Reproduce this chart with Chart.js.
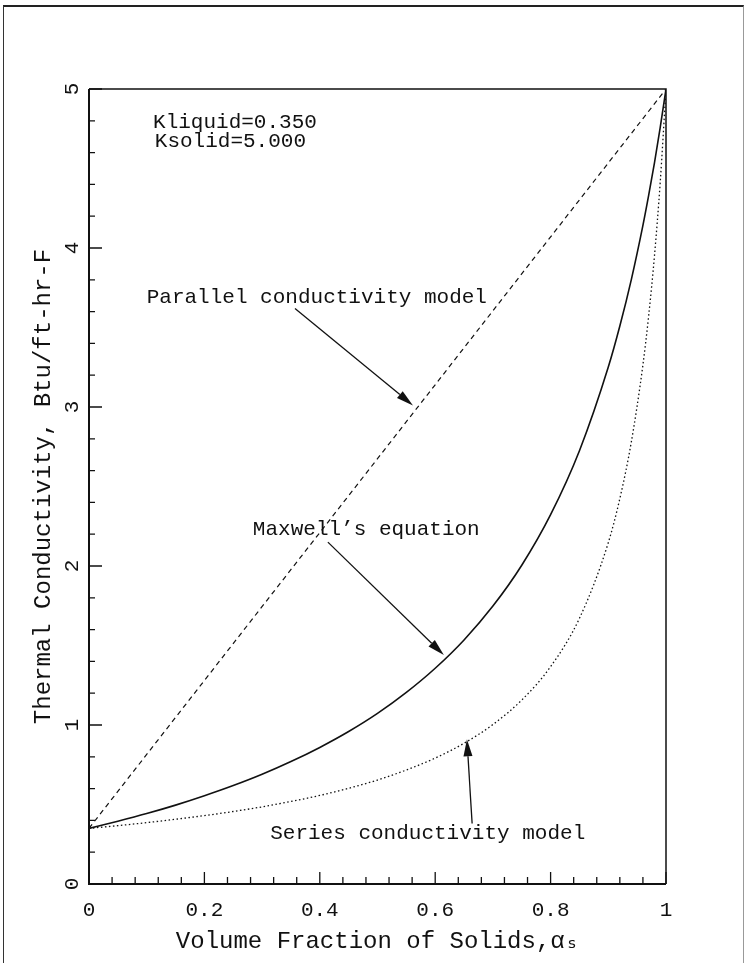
<!DOCTYPE html>
<html>
<head>
<meta charset="utf-8">
<script src="https://cdn.jsdelivr.net/npm/chart.js@4.4.1/dist/chart.umd.min.js"></script>
<style>
  html, body { margin: 0; padding: 0; background: #fff; }
  #wrap { position: relative; width: 744px; height: 963px; }
  #frame { position: absolute; left: 3px; top: 5px; width: 739px; height: 962px;
           border-left: 1.5px solid #333; border-top: 2px solid #222; border-right: 1px solid #999; }
  canvas { position: absolute; left: 0; top: 0; }
</style>
</head>
<body>
<div id="wrap">
  <div id="frame"></div>
  <canvas id="chart" width="744" height="963"></canvas>
</div>
<script>
// volume fraction of solids (x)
var alpha = [0, 0.05, 0.1, 0.15, 0.2, 0.25, 0.3, 0.35, 0.4, 0.45, 0.5, 0.55, 0.6,
             0.65, 0.7, 0.75, 0.8, 0.85, 0.9, 0.92, 0.94, 0.96, 0.97, 0.98, 0.99, 1];
// Maxwell's equation (solid)
var maxwell = [0.350, 0.395, 0.443, 0.496, 0.555, 0.619, 0.690, 0.770, 0.859, 0.959, 1.073, 1.205, 1.357,
               1.535, 1.748, 2.005, 2.323, 2.725, 3.251, 3.509, 3.803, 4.142, 4.332, 4.536, 4.758, 5.000];
// series conductivity model (dotted)
var series = [0.350, 0.367, 0.386, 0.407, 0.430, 0.456, 0.485, 0.519, 0.557, 0.602, 0.654, 0.717, 0.792,
              0.885, 1.003, 1.157, 1.367, 1.671, 2.147, 2.424, 2.782, 3.265, 3.575, 3.950, 4.414, 5.000];
// parallel conductivity model (dashed, straight line)
var parallelX = [0, 1];
var parallel = [0.35, 5.00];

var yTicks = [0, 1, 2, 3, 4, 5];

// text notes and arrows, in data units
var notes = [
  { text: 'Kliquid=0.350', x: 0.111, y: 4.79 },
  { text: 'Ksolid=5.000', x: 0.114, y: 4.67 },
  { text: 'Parallel conductivity model', x: 0.10, y: 3.69 },
  { text: 'Maxwell\u2019s equation', x: 0.284, y: 2.23 },
  { text: 'Series conductivity model', x: 0.314, y: 0.32 }
];
var arrows = [
  { x0: 0.357, y0: 3.62, x1: 0.5615, y1: 3.01 },
  { x0: 0.414, y0: 2.15, x1: 0.615, y1: 1.44 },
  { x0: 0.664, y0: 0.38, x1: 0.655, y1: 0.91 }
];

var ink = '#111';
var mono = '"Liberation Mono", "DejaVu Sans Mono", monospace';

function pts(xs, ys) {
  return xs.map(function (x, i) { return { x: x, y: ys[i] }; });
}

var decor = {
  id: 'decor',
  afterDraw: function (chart) {
    var ctx = chart.ctx, a = chart.chartArea;
    var xs = chart.scales.x, ys = chart.scales.y;
    ctx.save();
    ctx.strokeStyle = ink;
    ctx.fillStyle = ink;

    // plot frame
    ctx.lineWidth = 2;
    ctx.beginPath();
    ctx.moveTo(a.left, a.top); ctx.lineTo(a.left, a.bottom); ctx.lineTo(a.right, a.bottom);
    ctx.stroke();
    ctx.lineWidth = 1.5;
    ctx.beginPath();
    ctx.moveTo(a.left, a.top); ctx.lineTo(a.right, a.top); ctx.lineTo(a.right, a.bottom);
    ctx.stroke();

    // inward ticks
    ctx.lineWidth = 1.3;
    ctx.beginPath();
    for (var i = 0; i <= 25; i++) {
      var px = xs.getPixelForValue(i * 0.04);
      var len = (i % 5 === 0) ? 12 : 7;
      ctx.moveTo(px, a.bottom); ctx.lineTo(px, a.bottom - len);
    }
    for (var j = 0; j <= 25; j++) {
      var py = ys.getPixelForValue(j * 0.2);
      var l2 = (j % 5 === 0) ? 13 : 6;
      ctx.moveTo(a.left, py); ctx.lineTo(a.left + l2, py);
    }
    ctx.stroke();

    // rotated y tick labels
    ctx.font = '21px ' + mono;
    ctx.textAlign = 'center';
    ctx.textBaseline = 'middle';
    yTicks.forEach(function (v) {
      ctx.save();
      ctx.translate(a.left - 17, ys.getPixelForValue(v));
      ctx.rotate(-Math.PI / 2);
      ctx.fillText(String(v), 0, 0);
      ctx.restore();
    });

    // notes
    ctx.textAlign = 'left';
    notes.forEach(function (n) {
      ctx.fillText(n.text, xs.getPixelForValue(n.x), ys.getPixelForValue(n.y));
    });

    // arrows
    arrows.forEach(function (r) {
      var x0 = xs.getPixelForValue(r.x0), y0 = ys.getPixelForValue(r.y0);
      var x1 = xs.getPixelForValue(r.x1), y1 = ys.getPixelForValue(r.y1);
      var ang = Math.atan2(y1 - y0, x1 - x0);
      var hl = 17, hw = 4.5;
      ctx.lineWidth = 1.3;
      ctx.beginPath();
      ctx.moveTo(x0, y0);
      ctx.lineTo(x1 - hl * Math.cos(ang), y1 - hl * Math.sin(ang));
      ctx.stroke();
      ctx.beginPath();
      ctx.moveTo(x1, y1);
      ctx.lineTo(x1 - hl * Math.cos(ang) + hw * Math.sin(ang), y1 - hl * Math.sin(ang) - hw * Math.cos(ang));
      ctx.lineTo(x1 - hl * Math.cos(ang) - hw * Math.sin(ang), y1 - hl * Math.sin(ang) + hw * Math.cos(ang));
      ctx.closePath();
      ctx.fill();
    });
    ctx.restore();
  }
};

new Chart(document.getElementById('chart'), {
  type: 'line',
  data: {
    datasets: [
      {
        label: 'Parallel conductivity model',
        data: pts(parallelX, parallel),
        borderColor: ink, borderWidth: 1.2, borderDash: [5, 4],
        pointRadius: 0, fill: false
      },
      {
        label: "Maxwell's equation",
        data: pts(alpha, maxwell),
        borderColor: ink, borderWidth: 1.6,
        pointRadius: 0, fill: false, cubicInterpolationMode: 'monotone'
      },
      {
        label: 'Series conductivity model',
        data: pts(alpha, series),
        borderColor: ink, borderWidth: 1.3, borderDash: [1.5, 2.5],
        pointRadius: 0, fill: false, cubicInterpolationMode: 'monotone'
      }
    ]
  },
  options: {
    responsive: false,
    animation: false,
    layout: { padding: { top: 89, right: 78, left: 0, bottom: 0 } },
    plugins: { legend: { display: false }, tooltip: { enabled: false } },
    scales: {
      x: {
        type: 'linear', min: 0, max: 1,
        grid: { display: false, drawTicks: false },
        border: { display: false },
        ticks: {
          stepSize: 0.2, padding: 14, color: ink, font: { family: mono, size: 21 },
          callback: function (v) { return String(Math.round(v * 10) / 10); }
        },
        title: {
          display: true, text: 'Volume Fraction of Solids,\u03b1\u209b', color: ink,
          font: { family: mono, size: 24 }, padding: { top: 0, bottom: 7 }
        },
        afterFit: function (s) { s.height = 79; }
      },
      y: {
        type: 'linear', min: 0, max: 5,
        grid: { display: false, drawTicks: false },
        border: { display: false },
        ticks: { stepSize: 1, display: false },
        title: {
          display: true, text: 'Thermal Conductivity, Btu/ft-hr-F', color: ink,
          font: { family: mono, size: 24 }, padding: { top: 29, bottom: 0 }
        },
        afterFit: function (s) { s.width = 89; }
      }
    }
  },
  plugins: [decor]
});
</script>
</body>
</html>
